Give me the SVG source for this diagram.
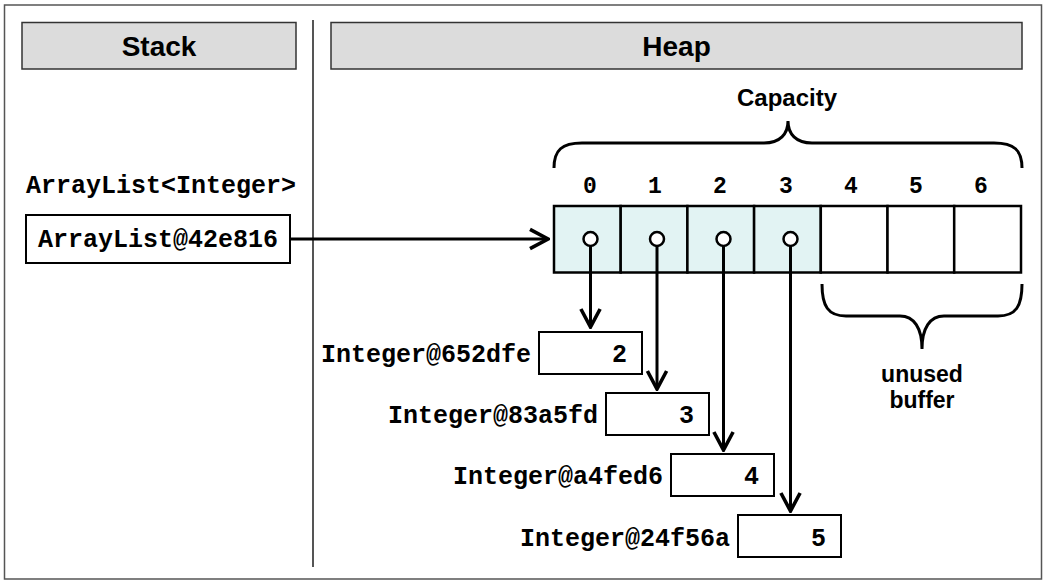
<svg xmlns="http://www.w3.org/2000/svg" width="1043" height="584" viewBox="0 0 1043 584">
<style>
.hdr{fill:#dcdcdc;stroke:#333;stroke-width:1.5}
.hdrt{font-family:"Liberation Sans",Arial,sans-serif;font-weight:bold;font-size:28px;text-anchor:middle;fill:#000}
.lbl{font-family:"Liberation Sans",Arial,sans-serif;font-weight:bold;font-size:24px;text-anchor:middle;fill:#000}
.lbl2{font-family:"Liberation Sans",Arial,sans-serif;font-weight:bold;font-size:23px;text-anchor:middle;fill:#000}
.mono{font-family:"Liberation Mono","Courier New",monospace;font-weight:bold;font-size:25px;fill:#000}
.idx{font-family:"Liberation Mono","Courier New",monospace;font-weight:bold;font-size:23px;text-anchor:middle;fill:#000}
.box{fill:#fff;stroke:#000;stroke-width:2}
.used{fill:#e2f3f3;stroke:#000;stroke-width:2.5}
.free{fill:#fff;stroke:#000;stroke-width:2.5}
.conn{stroke:#000;stroke-width:3;fill:none}
.brace{stroke:#000;stroke-width:3;fill:none}
.dot{fill:#fff;stroke:#000;stroke-width:2.5}
</style>
<defs>
<marker id="arr" markerUnits="userSpaceOnUse" markerWidth="24" markerHeight="24" viewBox="-18 -10 20 20" refX="0" refY="0" orient="auto">
<path d="M-15,-8 L0,0 L-15,8" fill="none" stroke="#000" stroke-width="3"/>
</marker>
</defs>
<rect x="4.5" y="5" width="1037" height="574" fill="#fff" stroke="#555" stroke-width="1.5"/>
<line x1="313" y1="20" x2="313" y2="567" stroke="#555" stroke-width="2"/>
<g id="stack-header">
<rect class="hdr" x="22" y="22.5" width="274" height="46.5"/>
<text class="hdrt" x="159" y="56">Stack</text>
</g>
<g id="heap-header">
<rect class="hdr" x="331" y="22.5" width="691" height="46.5"/>
<text class="hdrt" x="676.5" y="56">Heap</text>
</g>
<g id="arraylist-ref">
<text class="mono" x="26" y="193">ArrayList&lt;Integer&gt;</text>
<rect class="box" x="26" y="215" width="264" height="48" stroke-width="1.5"/>
<text class="mono" x="158" y="247" text-anchor="middle">ArrayList@42e816</text>
</g>
<g id="capacity">
<path class="brace" d="M554,168 C554,150 562,143 582,143 L764,143 C780,143 788,134 788,121 C788,134 796,143 812,143 L994,143 C1014,143 1022,150 1022,168"/>
<text class="lbl" x="787" y="106">Capacity</text>
</g>
<g id="indices">
<text class="idx" x="590" y="193">0</text>
<text class="idx" x="655" y="193">1</text>
<text class="idx" x="720" y="193">2</text>
<text class="idx" x="786" y="193">3</text>
<text class="idx" x="851" y="193">4</text>
<text class="idx" x="916" y="193">5</text>
<text class="idx" x="981" y="193">6</text>
</g>
<g id="array">
<rect class="used" x="554" y="206" width="66.7" height="66.5"/>
<rect class="used" x="620.7" y="206" width="66.7" height="66.5"/>
<rect class="used" x="687.4" y="206" width="66.7" height="66.5"/>
<rect class="used" x="754.1" y="206" width="66.7" height="66.5"/>
<rect class="free" x="820.8" y="206" width="66.7" height="66.5"/>
<rect class="free" x="887.5" y="206" width="66.7" height="66.5"/>
<rect class="free" x="954.2" y="206" width="66.8" height="66.5"/>
</g>
<g id="unused-buffer">
<path class="brace" d="M822,284 C822,306 828,316 846,316 L900,316 C914,316 922,328 922,349 C922,328 930,316 944,316 L998,316 C1016,316 1022,306 1022,284"/>
<text class="lbl2" x="922" y="382"><tspan x="922" y="382">unused</tspan><tspan x="922" y="408">buffer</tspan></text>
</g>
<g id="integer-2">
<text class="mono" x="531" y="362" text-anchor="end">Integer@652dfe</text>
<rect class="box" x="539" y="332" width="103" height="42"/>
<text class="mono" x="627" y="362" text-anchor="end">2</text>
</g>
<g id="integer-3">
<text class="mono" x="598" y="423" text-anchor="end">Integer@83a5fd</text>
<rect class="box" x="606" y="393" width="103" height="42"/>
<text class="mono" x="694" y="423" text-anchor="end">3</text>
</g>
<g id="integer-4">
<text class="mono" x="663" y="484" text-anchor="end">Integer@a4fed6</text>
<rect class="box" x="671" y="454" width="103" height="42"/>
<text class="mono" x="759" y="484" text-anchor="end">4</text>
</g>
<g id="integer-5">
<text class="mono" x="730" y="546" text-anchor="end">Integer@24f56a</text>
<rect class="box" x="738" y="515" width="103" height="42"/>
<text class="mono" x="826" y="546" text-anchor="end">5</text>
</g>
<g id="connectors">
<line class="conn" x1="290" y1="239" x2="548" y2="239" marker-end="url(#arr)"/>
<line class="conn" x1="590.5" y1="246" x2="590.5" y2="327" marker-end="url(#arr)"/>
<line class="conn" x1="657" y1="246" x2="657" y2="389" marker-end="url(#arr)"/>
<line class="conn" x1="723.5" y1="246" x2="723.5" y2="450" marker-end="url(#arr)"/>
<line class="conn" x1="790.5" y1="246" x2="790.5" y2="511" marker-end="url(#arr)"/>
<circle class="dot" cx="590.5" cy="239" r="7"/>
<circle class="dot" cx="657" cy="239" r="7"/>
<circle class="dot" cx="723.5" cy="239" r="7"/>
<circle class="dot" cx="790.5" cy="239" r="7"/>
</g>
</svg>
